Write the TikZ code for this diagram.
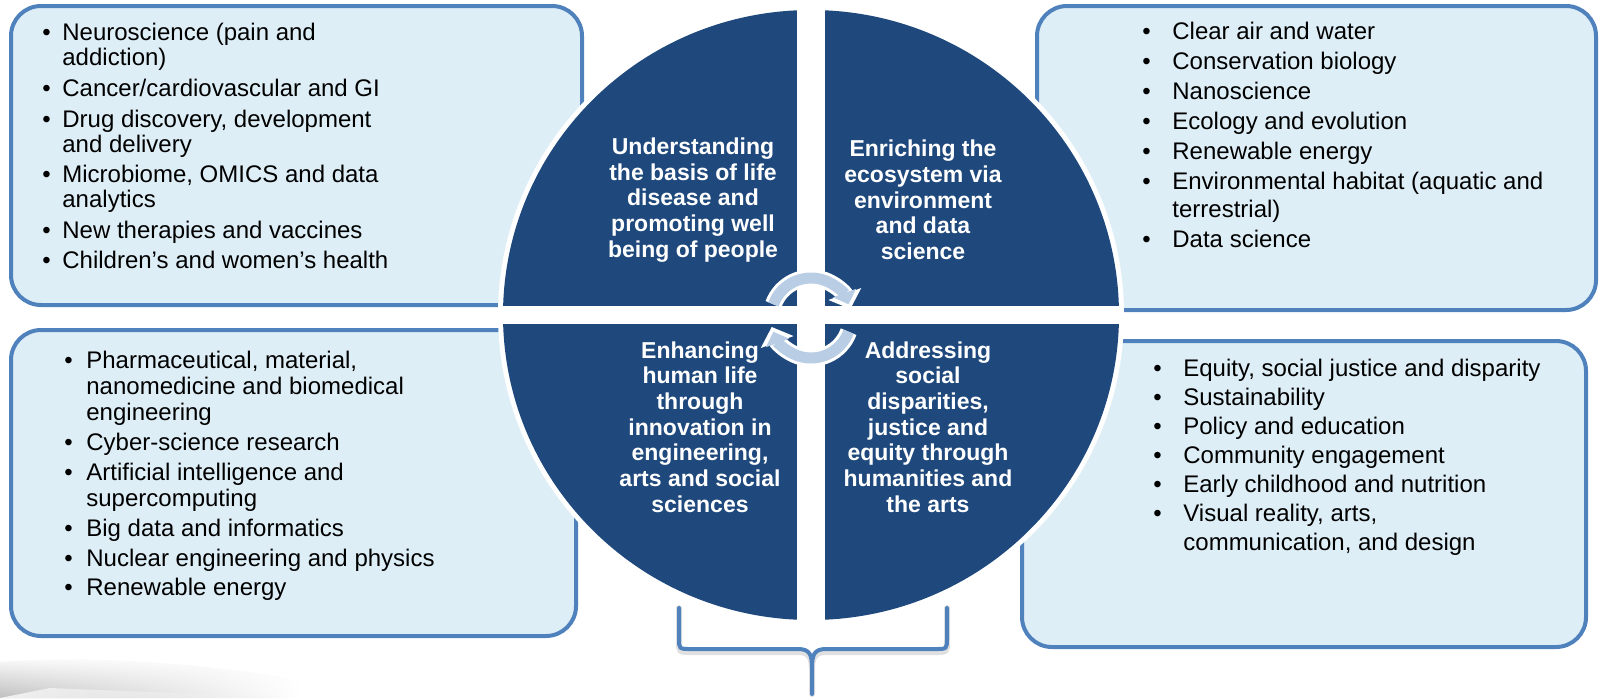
\documentclass[tikz,border=0pt]{standalone}
\usepackage{fontspec}
\setmainfont{Liberation Sans}
\usepackage{tikz}
\usetikzlibrary{arrows.meta, calc, positioning, fadings}
\definecolor{ringblue}{HTML}{1F497D}
\definecolor{boxblue}{HTML}{4F81BD}
\definecolor{boxfill}{HTML}{DEEEF6}
\definecolor{turnblue}{HTML}{B9CDE5}
\newcommand{\bul}[1]{\makebox[#1][l]{\textbullet}}
\newcommand{\ind}[1]{\hspace*{#1}}

\begin{document}
\begin{tikzpicture}[x=0.5pt, y=-0.5pt,
	listbox/.style={draw=boxblue, line width=2pt, fill=boxfill, rounded corners=15pt},
	listtext/.style={anchor=north west, inner sep=0pt, align=left, text=black},
	quadtext/.style={align=center, text=white, inner sep=0pt, font=\fontsize{11.5}{12.85}\selectfont\bfseries},
	turnwhite/.style={white, line width=8.5pt, -{Triangle[width=17pt,length=8pt]}, shorten >=-2.5pt},
	turn/.style={turnblue, line width=5.5pt, -{Triangle[width=12pt,length=6pt]}},
	brace/.style={draw=boxblue, line width=2pt, line cap=round},
	braceshadow/.style={draw=black!12, line width=3pt, line cap=round, yshift=-1.5pt}]
	\useasboundingbox (0,0) rectangle (1599,698);
	% faint shadow, lower left corner
	\shade[top color=white, bottom color=black!25, path fading=east] (0,698) -- (0,662) .. controls (80,655) and (200,662) .. (300,680) -- (300,698) -- cycle;
	\fill[black!5, path fading=east] (0,698) -- (50,688) -- (300,698) -- cycle;
	
	% boxes
	\draw[listbox] (11,6) rectangle (582,305);
	\draw[listbox] (1037,6) rectangle (1596,310);
	\draw[listbox] (11,330) rectangle (576,636);
	\draw[listbox] (1022,341) rectangle (1586,647);
	
	% circle in four parts
	\fill[white] (811,315) ellipse [x radius=313, y radius=310];
	\begin{scope}
		\clip (811,315) ellipse [x radius=308, y radius=305];
		\fill[ringblue] (480,0) rectangle (797,306);
		\fill[ringblue] (825,0) rectangle (1130,306);
		\fill[ringblue] (480,324) rectangle (797,630);
		\fill[ringblue] (825,324) rectangle (1130,630);
	\end{scope}
	
	\node[quadtext] (life) at (693,200) {Understanding\\the basis of life\\disease and\\promoting well\\being of people};
	\node[quadtext] (eco) at (923,200) {Enriching the\\ecosystem via\\environment\\and data\\science};
	\node[quadtext] (eng) at (700,427) {Enhancing\\human life\\through\\innovation in\\engineering,\\arts and social\\sciences};
	\node[quadtext] (arts) at (928,427) {Addressing\\social\\disparities,\\justice and\\equity through\\humanities and\\the arts};
	
	% turning arrows
	\coordinate (hub) at (811,318);
	\foreach \s/\e in {200/340, 20/160} {
		\draw[turnwhite] ($(hub)+(\s:40)$) arc[start angle=\s, end angle=\e, radius=40];
		\draw[turn] ($(hub)+(\s:40)$) arc[start angle=\s, end angle=\e, radius=40];
	}
	
	% brace
	\coordinate (bl) at (679,608);
	\coordinate (br) at (947,608);
	\coordinate (bt) at (812,694);
	\foreach \st in {braceshadow, brace} {
		\draw[\st] (bl) -- (679,638) .. controls (679,649) .. (691,649) -- (798,649) .. controls (810,649) and (812,655) .. (812,668) -- (bt);
		\draw[\st] (br) -- (947,638) .. controls (947,649) .. (935,649) -- (826,649) .. controls (814,649) and (812,655) .. (812,668);
	}
	
	% lists
	\node[listtext, font=\fontsize{12}{12.5}\selectfont] (health) at (42,23) {\bul{10pt}Neuroscience (pain and\\ \ind{10pt}addiction)\\[2.8pt]
		\bul{10pt}Cancer/cardiovascular and GI\\[2.8pt]
		\bul{10pt}Drug discovery, development\\ \ind{10pt}and delivery\\[2.8pt]
		\bul{10pt}Microbiome, OMICS and data\\ \ind{10pt}analytics\\[2.8pt]
		\bul{10pt}New therapies and vaccines\\[2.8pt]
		\bul{10pt}Children’s and women’s health};
	\node[listtext, font=\fontsize{12}{14}\selectfont] (nature) at (1142,22) {\bul{15pt}Clear air and water\\[1pt]
		\bul{15pt}Conservation biology\\[1pt]
		\bul{15pt}Nanoscience\\[1pt]
		\bul{15pt}Ecology and evolution\\[1pt]
		\bul{15pt}Renewable energy\\[1pt]
		\bul{15pt}Environmental habitat (aquatic and\\ \ind{15pt}terrestrial)\\[1pt]
		\bul{15pt}Data science};
	\node[listtext, font=\fontsize{12}{13}\selectfont] (tech) at (64,351) {\bul{11pt}Pharmaceutical, material,\\ \ind{11pt}nanomedicine and biomedical\\ \ind{11pt}engineering\\[1.9pt]
		\bul{11pt}Cyber-science research\\[1.9pt]
		\bul{11pt}Artificial intelligence and\\ \ind{11pt}supercomputing\\[1.9pt]
		\bul{11pt}Big data and informatics\\[1.9pt]
		\bul{11pt}Nuclear engineering and physics\\[1.9pt]
		\bul{11pt}Renewable energy};
	\node[listtext, font=\fontsize{12}{14.2}\selectfont] (society) at (1153,359) {\bul{15pt}Equity, social justice and disparity\\[0.3pt]
		\bul{15pt}Sustainability\\[0.3pt]
		\bul{15pt}Policy and education\\[0.3pt]
		\bul{15pt}Community engagement\\[0.3pt]
		\bul{15pt}Early childhood and nutrition\\[0.3pt]
		\bul{15pt}Visual reality, arts,\\ \ind{15pt}communication, and design};
\end{tikzpicture}
\end{document}
